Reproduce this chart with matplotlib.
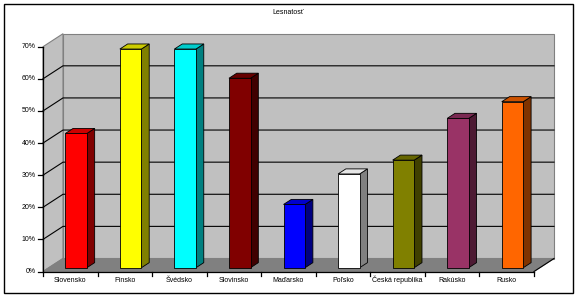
import matplotlib
matplotlib.use("Agg")
import matplotlib.pyplot as plt
from matplotlib.patches import Polygon, Rectangle
import numpy as np

plt.rcParams['font.family'] = ['Liberation Sans', 'DejaVu Sans']

title = "Lesnatosť"
categories = ["Slovensko", "Fínsko", "Švédsko", "Slovinsko", "Maďarsko",
              "Poľsko", "Česká republika", "Rakúsko", "Rusko"]
values = [41.8, 68.1, 68.1, 59.0, 19.7, 29.2, 33.5, 46.5, 51.7]
front_colors = ["#ff0000", "#ffff00", "#00ffff", "#800000", "#0000ff",
                "#ffffff", "#808000", "#993366", "#ff6600"]
top_colors = ["#cc0000", "#cccc00", "#00cccc", "#660000", "#0000cc",
              "#e6e6e6", "#666600", "#7a2952", "#cc5200"]
side_colors = ["#800000", "#808000", "#008080", "#400000", "#000080",
               "#808080", "#404000", "#4d1a33", "#803300"]
yticks = [0, 10, 20, 30, 40, 50, 60, 70]
ytick_labels = ["0%", "10%", "20%", "30%", "40%", "50%", "60%", "70%"]

W, H = 576, 296
fig = plt.figure(figsize=(W / 100, H / 100), dpi=100)
# outer border
fig.patches.append(Rectangle((3.5 / W, 3.5 / H), (W - 7) / W, (H - 7) / H,
                             transform=fig.transFigure, fill=False,
                             edgecolor="black", linewidth=1.0))

x0, x1 = 43, 534
y0, y1 = 271.5, 46.7
ax = fig.add_axes([x0 / W, (H - y0) / H, (x1 - x0) / W, (y0 - y1) / H])
n = len(categories)
ymax = 70
ax.set_xlim(0, n)
ax.set_ylim(0, ymax)
ax.axis("off")

px_x = (x1 - x0) / n          # pixels per category
px_y = (y0 - y1) / ymax       # pixels per percent
# depth vector in data units
Dx = 20 / px_x
Dy = 13 / px_y
wall_c = "#c0c0c0"
floor_c = "#808080"
edge_c = "#808080"

def P(pts, **kw):
    ax.add_patch(Polygon(pts, closed=True, clip_on=False, **kw))

# back wall
P([(Dx, Dy), (n + Dx, Dy), (n + Dx, ymax + Dy), (Dx, ymax + Dy)],
  facecolor=wall_c, edgecolor=edge_c, linewidth=0.8, zorder=1)
# left wall
P([(0, 0), (Dx, Dy), (Dx, ymax + Dy), (0, ymax)],
  facecolor=wall_c, edgecolor=edge_c, linewidth=0.8, zorder=1)
# floor
P([(0, 0), (n, 0), (n + Dx, Dy), (Dx, Dy)],
  facecolor=floor_c, edgecolor=edge_c, linewidth=0.8, zorder=1)
ax.plot([n, n + Dx], [0, Dy], color="black", lw=0.8, clip_on=False, zorder=2)

# gridlines
for v in yticks[1:-1]:
    ax.plot([0, Dx, n + Dx], [v, v + Dy, v + Dy], color="black", lw=0.8,
            clip_on=False, zorder=2)

# axes lines
ax.plot([0, 0], [0, ymax], color="black", lw=0.9, clip_on=False, zorder=3)
ax.plot([0, n], [0, 0], color="black", lw=0.9, clip_on=False, zorder=3)
tick_dx = 5 / px_x
tick_dy = 4 / px_y
for v, lab in zip(yticks, ytick_labels):
    ax.plot([-tick_dx, 0], [v, v], color="black", lw=0.9, clip_on=False, zorder=3)
    ax.text(-tick_dx - 0.04, v, lab, ha="right", va="center", fontsize=5)
for i in range(n + 1):
    ax.plot([i, i], [0, -tick_dy], color="black", lw=0.9, clip_on=False, zorder=3)

x = np.arange(n) + 0.5
for xi, lab in zip(x, categories):
    ax.text(xi, -11 / px_y, lab, ha="center", va="baseline", fontsize=5)

# bars
w = 0.395
d0, d1 = 0.29, 0.68
for i, (xi, v) in enumerate(zip(x, values)):
    xl = xi - w / 2 + d0 * Dx
    xr = xl + w
    b = d0 * Dy
    ddx = (d1 - d0) * Dx
    ddy = (d1 - d0) * Dy
    # side
    P([(xr, b), (xr, b + v), (xr + ddx, b + v + ddy), (xr + ddx, b + ddy)],
      facecolor=side_colors[i], edgecolor="black", linewidth=0.6, zorder=5)
    # top
    P([(xl, b + v), (xr, b + v), (xr + ddx, b + v + ddy), (xl + ddx, b + v + ddy)],
      facecolor=top_colors[i], edgecolor="black", linewidth=0.6, zorder=5)
ax.bar(x + d0 * Dx, values, width=w, bottom=d0 * Dy, color=front_colors,
       edgecolor="black", linewidth=0.6, zorder=6)

fig.text(288 / W, 1 - 13 / H, title, ha="center", va="center", fontsize=5)

fig.savefig("out.png", dpi=100)
